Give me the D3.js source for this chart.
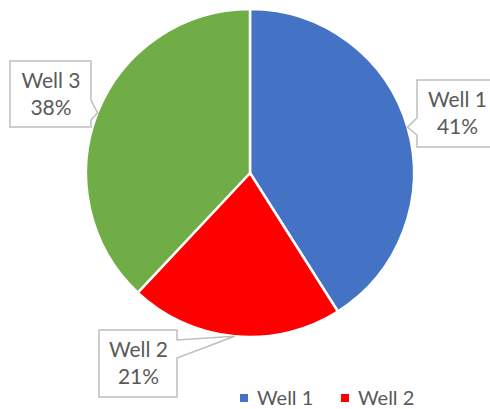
<!DOCTYPE html>
<html>
<head>
<meta charset="utf-8">
<script src="https://cdn.jsdelivr.net/npm/d3@7"></script>
<style>
  html, body { margin: 0; padding: 0; background: #fff; }
  svg { display: block; }
  text { font-family: Lato, "Open Sans", sans-serif; fill: #595959; }
</style>
</head>
<body>
<svg id="chart" width="490" height="409"></svg>
<script>
// Share of output per well
const categories = ["Well 1", "Well 2", "Well 3"];
const values = [41, 21, 38];
const colors = ["#4472C4", "#FF0000", "#70AD47"];
const legendItems = ["Well 1", "Well 2"];

// Callout boxes: box rectangle, side the pointer leaves from, and pointer base span
const callouts = [
  { x: 417, y: 80,  w: 80, h: 67, side: "left",  b0: 118, b1: 135 },
  { x: 99,  y: 330, w: 78, h: 67, side: "right", b0: 340, b1: 358 },
  { x: 10,  y: 61,  w: 81, h: 66, side: "right", b0: 100, b1: 120 }
];

const svg = d3.select("#chart");
const cx = 250, cy = 173, radius = 164;

const data = categories.map((c, i) => ({ name: c, value: values[i], color: colors[i] }));
const pie = d3.pie().sort(null).value(d => d.value);
const arcs = pie(data);
const arc = d3.arc().innerRadius(0).outerRadius(radius);
const edge = d3.arc().innerRadius(radius).outerRadius(radius);

const g = svg.append("g").attr("transform", `translate(${cx},${cy})`);
g.selectAll("path.slice")
  .data(arcs)
  .join("path")
  .attr("class", "slice")
  .attr("d", arc)
  .attr("fill", d => d.data.color)
  .attr("stroke", "#fff")
  .attr("stroke-width", 2.5)
  .attr("stroke-linejoin", "round");

// Callout labels with pointers to the middle of each slice's rim
const total = d3.sum(values);
arcs.forEach((a, i) => {
  const c = callouts[i];
  const [tx0, ty0] = edge.centroid(a);
  const tx = tx0 + cx, ty = ty0 + cy;
  const p = d3.path();
  if (c.side === "right") {
    p.moveTo(c.x, c.y);
    p.lineTo(c.x + c.w, c.y);
    p.lineTo(c.x + c.w, c.b0);
    p.lineTo(tx, ty);
    p.lineTo(c.x + c.w, c.b1);
    p.lineTo(c.x + c.w, c.y + c.h);
    p.lineTo(c.x, c.y + c.h);
    p.closePath();
  } else {
    p.moveTo(c.x, c.y);
    p.lineTo(c.x + c.w, c.y);
    p.lineTo(c.x + c.w, c.y + c.h);
    p.lineTo(c.x, c.y + c.h);
    p.lineTo(c.x, c.b1);
    p.lineTo(tx, ty);
    p.lineTo(c.x, c.b0);
    p.closePath();
  }
  svg.append("path")
    .attr("d", p.toString())
    .attr("fill", "#fff")
    .attr("stroke", "#BFBFBF")
    .attr("stroke-width", 1.5);

  const mx = c.x + c.w / 2 + 0.5;
  svg.append("text")
    .attr("x", mx).attr("y", c.y + 27)
    .attr("text-anchor", "middle")
    .attr("font-size", 21)
    .text(a.data.name);
  svg.append("text")
    .attr("x", mx).attr("y", c.y + 54)
    .attr("text-anchor", "middle")
    .attr("font-size", 21)
    .text(Math.round(a.data.value / total * 100) + "%");
});

// Legend along the bottom
const legendX = d3.scalePoint().domain(legendItems).range([240, 341]);
const lg = svg.append("g");
legendItems.forEach(name => {
  const i = categories.indexOf(name);
  const x = legendX(name);
  lg.append("rect")
    .attr("x", x).attr("y", 394)
    .attr("width", 8).attr("height", 8)
    .attr("fill", colors[i]);
  lg.append("text")
    .attr("x", x + 17).attr("y", 404.5)
    .attr("font-size", 20)
    .text(name);
});
</script>
</body>
</html>
